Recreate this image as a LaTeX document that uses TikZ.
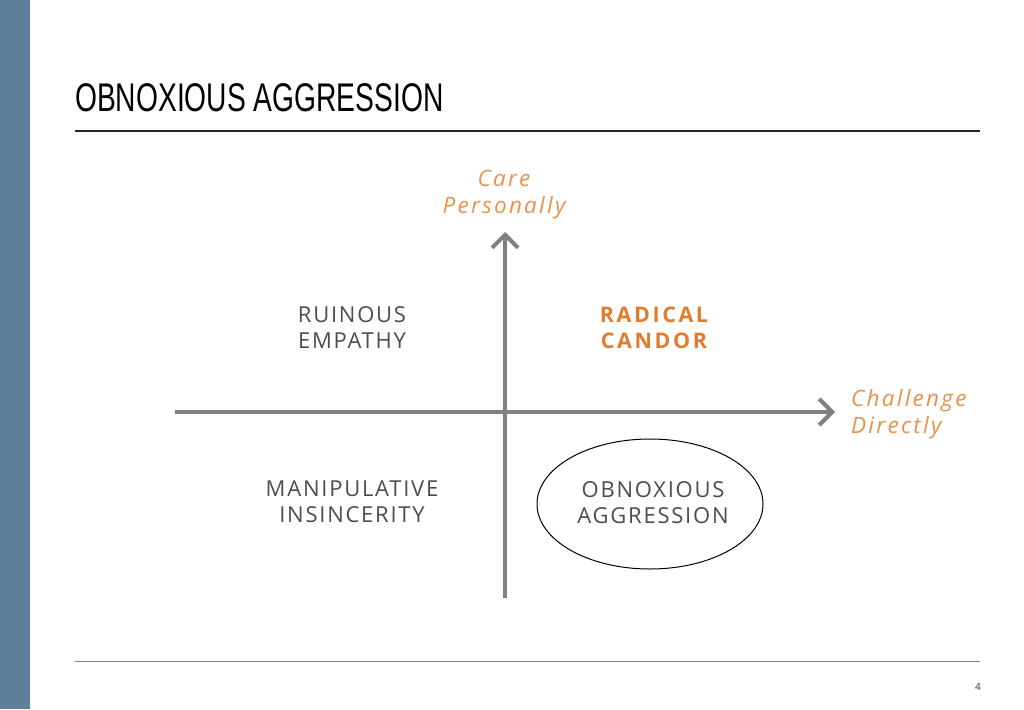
\documentclass[tikz,border=0pt]{standalone}
\usepackage{fontspec}
\setmainfont{Open Sans}
\newfontfamily\lab[LetterSpace=8]{Open Sans}
\newfontfamily\labit[LetterSpace=10]{Open Sans}
\newfontfamily\labbf[LetterSpace=12]{Open Sans}
\newfontfamily\titlefont{Liberation Sans}
\usetikzlibrary{arrows.meta}
\definecolor{barblue}{HTML}{5F7F99}
\definecolor{axisgray}{HTML}{808080}
\definecolor{orangelt}{HTML}{E8924A}
\definecolor{orangedk}{HTML}{E47A2E}
\definecolor{labgray}{HTML}{4D4D4D}
\begin{document}
\begin{tikzpicture}[x=1pt,y=-1pt,
  axis/.style={draw=axisgray,line width=4pt,-{Straight Barb[length=13pt,width=26pt,line width=4pt]}},
  quad/.style={font=\lab\fontsize{22}{26}\selectfont,text=labgray,align=center,inner sep=0pt},
  axlab/.style={font=\labit\itshape\fontsize{22.5}{27}\selectfont,text=orangelt,align=left,inner sep=0pt},
  rule/.style={line width=1.2pt}]
\useasboundingbox (0,0) rectangle (1024,709);
\fill[white] (0,0) rectangle (1024,709);
\fill[barblue] (0,0) rectangle (30,709);
% title
\node[anchor=base west,inner sep=0pt,font=\titlefont\fontsize{40}{40}\selectfont] (title) at (75,111) {\scalebox{0.705}[1]{OBNOXIOUS AGGRESSION}};
\coordinate (r1a) at (75,131); \coordinate (r1b) at (980,131);
\draw[rule,black!85] (r1a) -- (r1b);
\coordinate (r2a) at (75,661); \coordinate (r2b) at (980,661);
\draw[line width=0.8pt,axisgray] (r2a) -- (r2b);
\node[anchor=base east,inner sep=0pt,font=\fontsize{10}{10}\selectfont,text=black!80] (pg) at (981,690) {4};
% axes
\coordinate (vb) at (505,598); \coordinate (vt) at (505,232);
\coordinate (hl) at (175,412); \coordinate (hr) at (835,412);
\draw[axis] (vb) -- (vt);
\draw[axis] (hl) -- (hr);
% axis labels
\node[axlab,align=center] (care) at (504,195) {Care\\Personally};
\node[axlab,anchor=west] (chal) at (851,414) {Challenge\\Directly};
% quadrants
\node[quad] (ruin) at (352,328) {RUINOUS\\EMPATHY};
\node[quad,font=\labbf\bfseries\fontsize{21.5}{26}\selectfont,text=orangedk] (rad) at (654,328) {RADICAL\\CANDOR};
\node[quad] (manip) at (352,502) {MANIPULATIVE\\INSINCERITY};
\node[quad] (obn) at (653,503) {OBNOXIOUS\\AGGRESSION};
\draw[line width=1pt,black] (650,504) ellipse [x radius=113, y radius=65];
\end{tikzpicture}
\end{document}
